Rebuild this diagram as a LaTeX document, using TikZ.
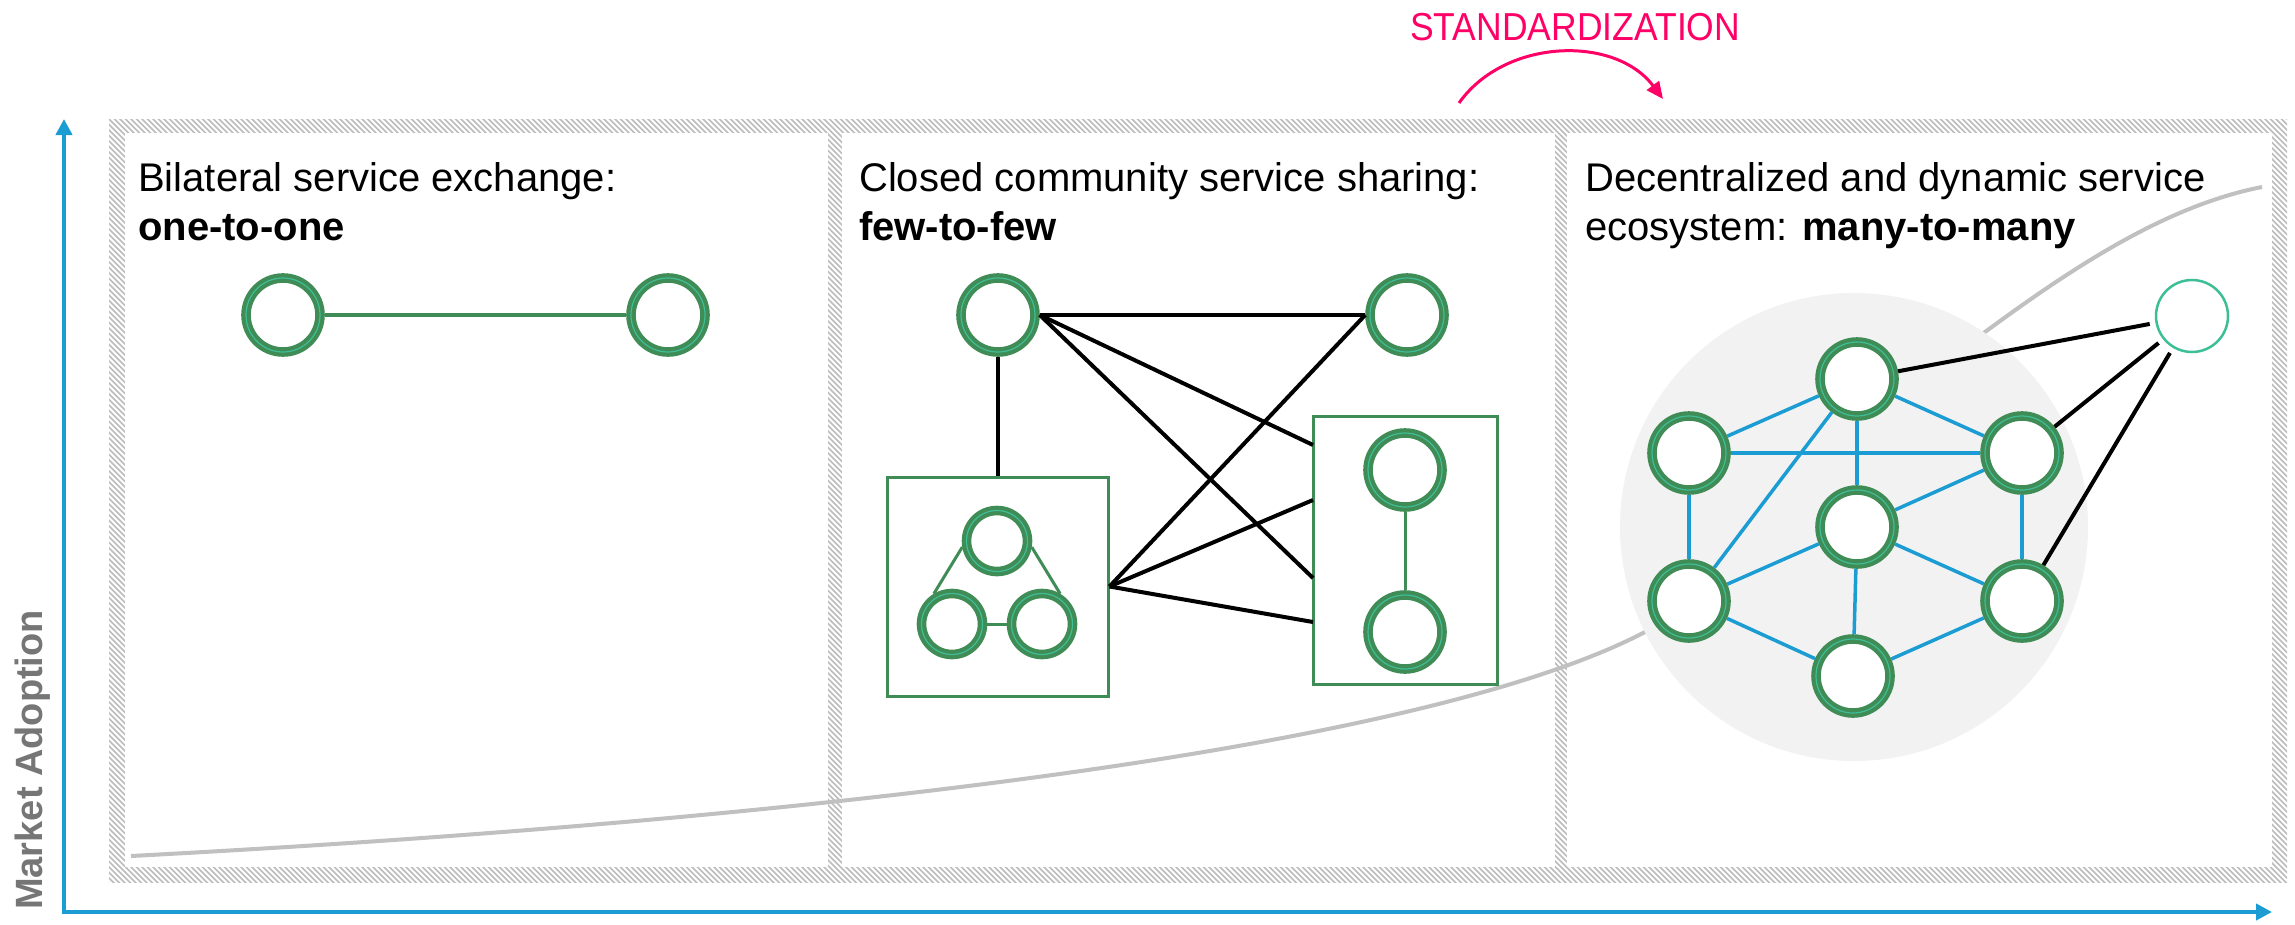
\documentclass[tikz,border=0pt]{standalone}
\usepackage{fontspec}
\setmainfont{Liberation Sans}
\newfontfamily\stdfont{Liberation Sans}[FakeStretch=0.91]
\usetikzlibrary{arrows.meta,calc}
\definecolor{sgreen}{RGB}{64,140,86}
\definecolor{steal}{RGB}{62,190,150}
\definecolor{sblue}{RGB}{27,156,211}
\definecolor{spink}{RGB}{255,0,102}
\definecolor{shatch}{RGB}{188,188,188}
\definecolor{scurve}{RGB}{192,192,192}
\definecolor{scirc}{RGB}{242,242,242}
\definecolor{slabel}{RGB}{118,118,118}
\begin{document}
\begin{tikzpicture}[x=1pt,y=-1pt,
  svc/.style={circle, draw=sgreen, double=steal, line width=4.2pt, double distance=1.2pt,
    fill=white, inner sep=0pt, outer sep=4.8pt, minimum size=74pt},
  svcsmall/.style={svc, minimum size=61pt},
  svcout/.style={circle, draw=steal, line width=2.5pt, fill=white, inner sep=0pt,
    minimum size=72pt, outer sep=7pt},
  gbox/.style={draw=sgreen, line width=3pt, inner sep=0pt},
  bline/.style={draw=black, line width=4pt},
  blink/.style={draw=sblue, line width=3.5pt},
  glink/.style={draw=sgreen, line width=3.5pt},
  txt/.style={inner sep=0pt, anchor=base west, font=\fontsize{40pt}{48pt}\selectfont},
  axisline/.style={draw=sblue, line width=4pt, line join=miter,
    {Triangle[length=16pt,width=16pt]}-{Triangle[length=16pt,width=16pt]}},
  hatchline/.style={draw=shatch, line width=1.7pt}
]
\useasboundingbox (0,0) rectangle (2295,924);
\fill[white] (0,0) rectangle (2295,924);

% hatched frame
\begin{scope}
  \clip (109,119) rectangle (2287,882);
  \foreach \c in {-780,-774.5,...,2175}
    \draw[hatchline] (\c+100,100) -- (\c+900,900);
\end{scope}
\fill[white] (125,133) rectangle (828,867);
\fill[white] (842,133) rectangle (1555,867);
\fill[white] (1567,133) rectangle (2272,867);

% axes
\coordinate (ytip) at (64,119);
\coordinate (origin) at (64,912);
\coordinate (xtip) at (2272,912);
\draw[axisline] (ytip) -- (origin) -- (xtip);
\node[rotate=90, anchor=base west, inner sep=0pt, text=slabel,
  font=\fontsize{38pt}{46pt}\selectfont\bfseries] (ylab) at (42,910) {Market Adoption};

% adoption curve
\coordinate (c0) at (131,856);
\coordinate (c1) at (1645,632);
\coordinate (c2) at (1985,332);
\coordinate (c3) at (2262,187);
\draw[scurve, line width=4pt] (c0) .. controls (700,826) and (1400,760) .. (c1)
  .. controls (1800,550) and (1880,410) .. (c2)
  .. controls (2080,262) and (2170,205) .. (c3);

% standardization
\node[inner sep=0pt, anchor=base west, text=spink,
  font=\stdfont\fontsize{39pt}{47pt}\selectfont] (std) at (1410,40) {STANDARDIZATION};
\coordinate (s0) at (1459,103);
\coordinate (s1) at (1663,99);
\draw[spink, line width=3pt, -{Triangle[length=17pt,width=15pt]}]
  (s0) .. controls (1505,38) and (1615,35) .. (s1);

% texts
\node[txt] (t1a) at (138,191) {Bilateral service exchange:};
\node[txt] (t1b) at (138,240) {\bfseries one-to-one};
\node[txt] (t2a) at (859,191) {Closed community service sharing:};
\node[txt] (t2b) at (859,240) {\bfseries few-to-few};
\node[txt] (t3a) at (1585,191) {Decentralized and dynamic service};
\node[txt] (t3b) at (1585,240) {ecosystem: \bfseries many-to-many};

% panel 1
\node[svc] (p1a) at (283,315) {};
\node[svc] (p1b) at (668,315) {};
\draw[glink] (p1a) -- (p1b);

% panel 2
\node[svc] (A) at (998,315) {};
\node[svc] (B) at (1407,315) {};
\node[gbox, minimum width=221pt, minimum height=219pt] (lbox) at (997.5,586.5) {};
\node[gbox, minimum width=184pt, minimum height=268pt] (rbox) at (1405,550) {};
\node[svcsmall] (tt) at (997,541) {};
\node[svcsmall] (tl) at (952,624) {};
\node[svcsmall] (tr) at (1042,624) {};
\draw[glink, line width=3pt] (tt.190) -- (tl.121);
\draw[glink, line width=3pt] (tt.-10) -- (tr.59);
\draw[glink, line width=3pt] (tl.east) -- (tr.west);
\node[svc] (rb1) at (1405,470) {};
\node[svc] (rb2) at (1405,632) {};
\draw[glink, line width=3pt] (rb1) -- (rb2);
\coordinate (r1) at (1313,445);
\coordinate (r2) at (1313,578);
\coordinate (r3) at (1313,500);
\coordinate (r4) at (1313,622);
\draw[bline] (A) -- (B);
\draw[bline] (A) -- (A |- lbox.north);
\draw[bline] (A.east) -- (r1);
\draw[bline] (A.east) -- (r2);
\draw[bline] (lbox.east) -- (B.west);
\draw[bline] (lbox.east) -- (r3);
\draw[bline] (lbox.east) -- (r4);

% panel 3
\node[circle, fill=scirc, inner sep=0pt, minimum size=468pt] (cloud) at (1854,527) {};
\node[svc] (T) at (1857,379) {};
\node[svc] (UL) at (1689,453) {};
\node[svc] (UR) at (2022,453) {};
\node[svc] (C) at (1857,527) {};
\node[svc] (LL) at (1689,601) {};
\node[svc] (LR) at (2022,601) {};
\node[svc] (BB) at (1853,676) {};
\node[svcout] (O) at (2192,316) {};
\draw[blink] (T) -- (UL);
\draw[blink] (T) -- (UR);
\draw[blink] (T) -- (C);
\draw[blink] (T) -- (LL);
\draw[blink] (UL) -- (UR);
\draw[blink] (UL) -- (LL);
\draw[blink] (UR) -- (LR);
\draw[blink] (LL) -- (C);
\draw[blink] (C) -- (UR);
\draw[blink] (C) -- (LR);
\draw[blink] (C) -- (BB);
\draw[blink] (LL) -- (BB);
\draw[blink] (LR) -- (BB);
\draw[bline] (T) -- (O);
\draw[bline] (UR) -- (O);
\draw[bline] (LR) -- (O);
\end{tikzpicture}
\end{document}
